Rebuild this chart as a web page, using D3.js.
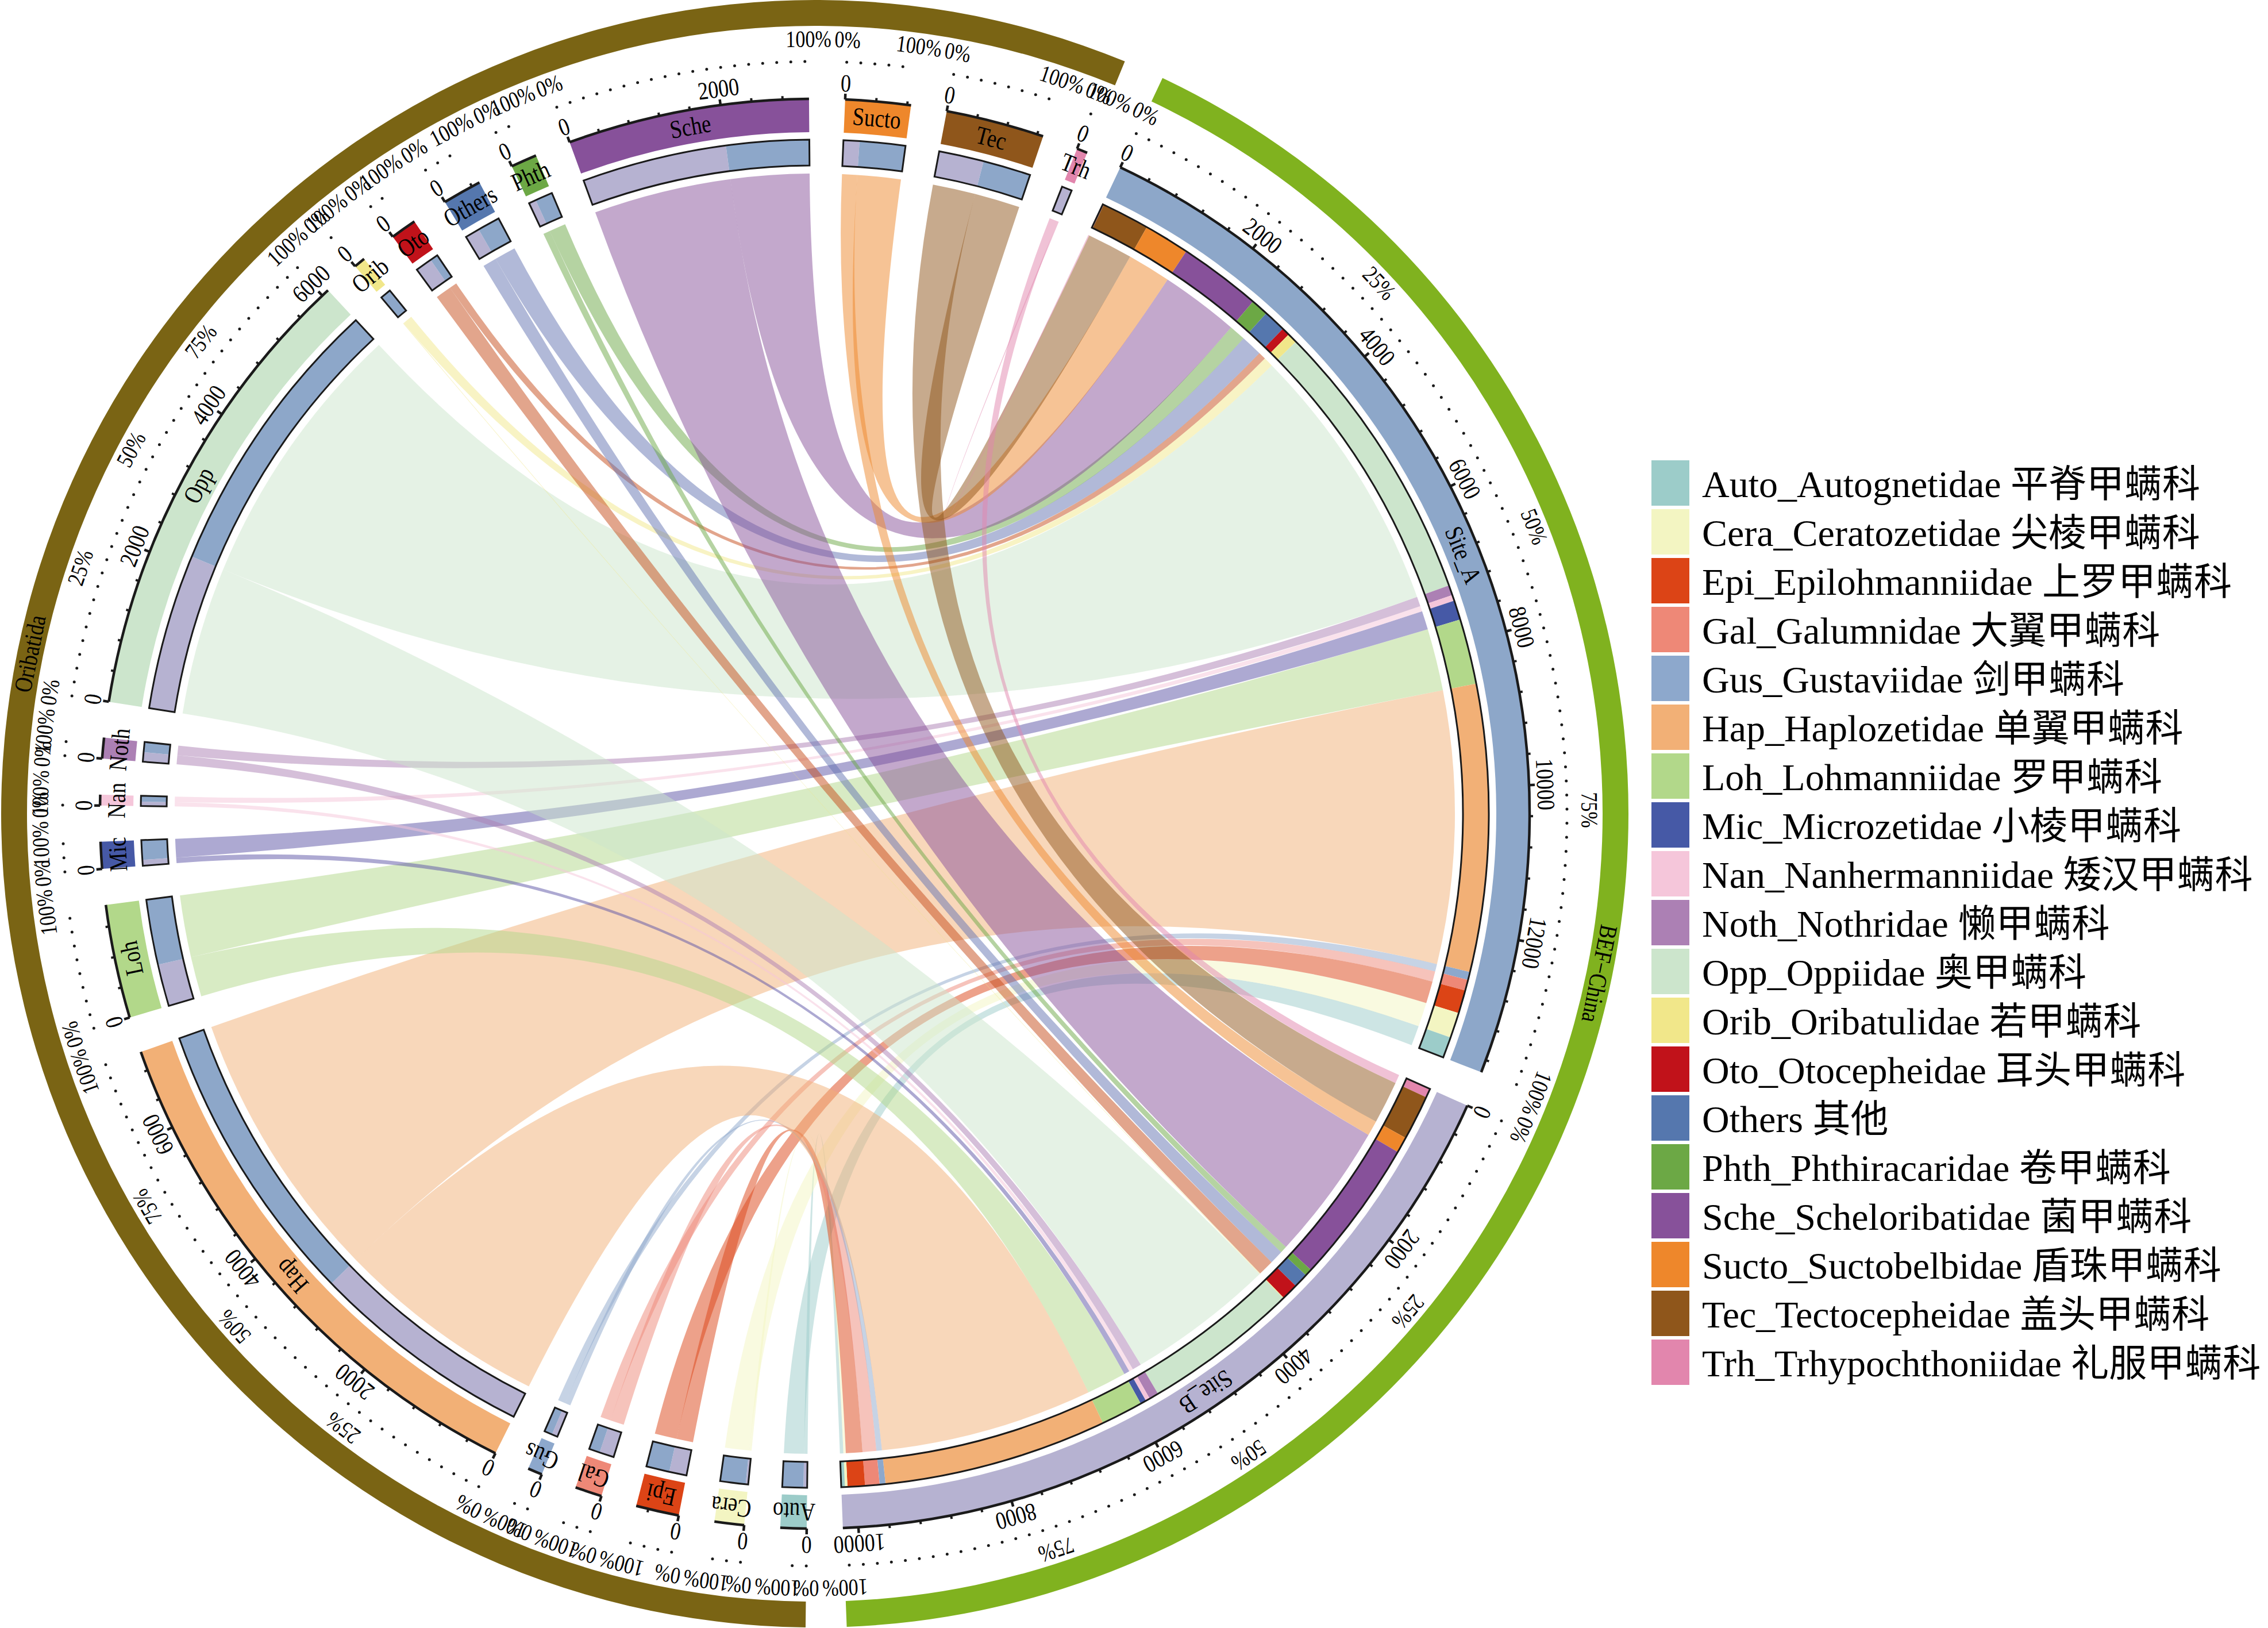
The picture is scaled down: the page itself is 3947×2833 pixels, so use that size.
<!DOCTYPE html>
<meta charset="utf-8">
<body style="margin:0;background:#fff">
<script src="https://d3js.org/d3.v7.min.js"></script>
<script>

var width = 3947,
    height = 2833,
    cx = 1418,
    cy = 1416;

// Oribatida families, in the order they sit round the circle (clockwise from the bottom)
var families = ["Auto", "Cera", "Epi", "Gal", "Gus", "Hap", "Loh", "Mic", "Nan", "Noth",
                "Opp", "Orib", "Oto", "Others", "Phth", "Sche", "Sucto", "Tec", "Trh"];

var familyLabels = ["Auto_Autognetidae 平脊甲螨科", "Cera_Ceratozetidae 尖棱甲螨科",
  "Epi_Epilohmanniidae 上罗甲螨科", "Gal_Galumnidae 大翼甲螨科", "Gus_Gustaviidae 剑甲螨科",
  "Hap_Haplozetidae 单翼甲螨科", "Loh_Lohmanniidae 罗甲螨科", "Mic_Microzetidae 小棱甲螨科",
  "Nan_Nanhermanniidae 矮汉甲螨科", "Noth_Nothridae 懒甲螨科", "Opp_Oppiidae 奥甲螨科",
  "Orib_Oribatulidae 若甲螨科", "Oto_Otocepheidae 耳头甲螨科", "Others 其他",
  "Phth_Phthiracaridae 卷甲螨科", "Sche_Scheloribatidae 菌甲螨科", "Sucto_Suctobelbidae 盾珠甲螨科",
  "Tec_Tectocepheidae 盖头甲螨科", "Trh_Trhypochthoniidae 礼服甲螨科"];

var familyColors = ["#9CCCC9", "#F3F5C2", "#DC4416", "#EE8877", "#8DA8CC", "#F2B076", "#B2D88A",
                    "#4659A6", "#F5C6DA", "#AC80B4", "#CCE5CC", "#F1E78A", "#C1121A", "#5577AE",
                    "#6CA845", "#87519A", "#EE872B", "#8F561B", "#E286AD"];

// link colours (same palette, except where the printed chords differ)
var linkColors = ["#9CCCC9", "#F3F5C2", "#DC4416", "#EE8877", "#8DA8CC", "#F2B076", "#B2D88A",
                  "#5B53A5", "#F5C6DA", "#AC80B4", "#CCE5CC", "#F1E78A", "#C54B19", "#6373B1",
                  "#6CA845", "#87519A", "#EE872B", "#8F561B", "#E286AD"];

// individuals per family at each site
var siteA = [290, 350, 320, 150, 110, 3960, 900, 270, 80, 140, 3950, 140, 110, 310, 240, 1140, 630, 660, 15];
var siteB = [50, 35, 240, 200, 80, 3090, 580, 80, 60, 130, 2150, 10, 230, 200, 100, 2000, 220, 620, 125];

var sites = ["Site_A", "Site_B"];
var siteColors = ["#8DA7C9", "#B6B2D1"];

var groups = ["Oribatida", "BEF−China"];
var groupColors = ["#7A6414", "#80B21F"];

var majorStep = 2000,
    minorStep = 400,
    pctTicks = [0, 25, 50, 75, 100];

var deg = Math.PI / 180,
    gap = 2.9 * deg,
    start = 25.3 * deg;

var rLink = 1114, rIn0 = 1128, rIn1 = 1173, rOut0 = 1186, rOut1 = 1244,
    rTickLab = 1272, rDots = 1309, rPctLab = 1348, rGrp0 = 1371, rGrp1 = 1416;

var serif = "'Liberation Serif', 'Times New Roman', 'Noto Sans CJK SC', serif";

// sectors: two sites then the families
var sectors = [];
sectors.push({name: sites[0], total: d3.sum(siteA), color: siteColors[0], group: 1});
sectors.push({name: sites[1], total: d3.sum(siteB), color: siteColors[1], group: 1});
families.forEach(function(f, i) {
  sectors.push({name: f, total: siteA[i] + siteB[i], color: familyColors[i], group: 0, index: i});
});

var k = (2 * Math.PI - sectors.length * gap) / d3.sum(sectors, function(d) { return d.total; });
var a = start;
sectors.forEach(function(s) {
  s.a0 = a;
  s.a1 = a + s.total * k;
  a = s.a1 + gap;
  s.x = d3.scaleLinear().domain([0, s.total]).range([s.a0, s.a1]);
});

// composition of each sector
var famOrder = d3.range(families.length).reverse();
[siteA, siteB].forEach(function(vals, j) {
  var s = sectors[j], pos = 0;
  s.segs = famOrder.map(function(i) {
    var seg = {a0: s.x(pos), a1: s.x(pos + vals[i]), color: familyColors[i], fam: i};
    pos += vals[i];
    return seg;
  });
});
sectors.slice(2).forEach(function(s) {
  var i = s.index;
  s.segs = [
    {a0: s.x(0), a1: s.x(siteB[i]), color: siteColors[1], site: 1},
    {a0: s.x(siteB[i]), a1: s.x(s.total), color: siteColors[0], site: 0}
  ];
});

var links = [];
sectors.slice(2).forEach(function(s) {
  s.segs.forEach(function(seg) {
    var t = sectors[seg.site].segs.find(function(d) { return d.fam === s.index; });
    links.push({
      color: linkColors[s.index],
      source: {startAngle: seg.a0, endAngle: seg.a1},
      target: {startAngle: t.a0, endAngle: t.a1}
    });
  });
});

var svg = d3.select("body").append("svg")
    .attr("width", width)
    .attr("height", height)
    .style("font-family", serif);

var g = svg.append("g").attr("transform", "translate(" + cx + "," + cy + ")");

var arc = d3.arc();

function arcLine(r, a0, a1) {
  var p = d3.path();
  p.arc(0, 0, r, a0 - Math.PI / 2, a1 - Math.PI / 2);
  return p.toString();
}

// text along the circle, top facing outwards (glyphs a bit taller, as in the print)
function placeText(sel, ang, r, txt, size) {
  return sel.append("text")
      .attr("transform", "translate(" + (r * Math.sin(ang)) + "," + (-r * Math.cos(ang)) + ") rotate(" + (ang / deg) + ") scale(1,1.2)")
      .attr("text-anchor", "middle")
      .attr("dominant-baseline", "central")
      .style("font-size", size + "px")
      .text(txt);
}

// links
g.append("g").selectAll("path")
  .data(links)
  .enter().append("path")
    .attr("d", d3.ribbon().radius(rLink))
    .attr("fill", function(d) { return d.color; })
    .attr("fill-opacity", 0.5);

// group ring
var grp = [
  {a0: sectors[2].a0, a1: sectors[sectors.length - 1].a1, i: 0},
  {a0: sectors[0].a0, a1: sectors[1].a1, i: 1}
];
grp.forEach(function(d) {
  g.append("path")
      .attr("d", arc({innerRadius: rGrp0, outerRadius: rGrp1, startAngle: d.a0, endAngle: d.a1}))
      .attr("fill", groupColors[d.i]);
  placeText(g, (d.a0 + d.a1) / 2, (rGrp0 + rGrp1) / 2, groups[d.i], 36);
});

sectors.forEach(function(s) {
  var sg = g.append("g");

  // outer colour band with the sector name
  sg.append("path")
      .attr("d", arc({innerRadius: rOut0, outerRadius: rOut1, startAngle: s.a0, endAngle: s.a1}))
      .attr("fill", s.color);
  placeText(sg, (s.a0 + s.a1) / 2, (rOut0 + rOut1) / 2, s.name, 37);

  // inner composition band
  s.segs.forEach(function(seg) {
    sg.append("path")
        .attr("d", arc({innerRadius: rIn0, outerRadius: rIn1, startAngle: seg.a0, endAngle: seg.a1}))
        .attr("fill", seg.color);
  });
  sg.append("path")
      .attr("d", arc({innerRadius: rIn0, outerRadius: rIn1, startAngle: s.a0, endAngle: s.a1}))
      .attr("fill", "none")
      .attr("stroke", "#1a1a1a")
      .attr("stroke-width", 3);

  // count axis
  sg.append("path")
      .attr("d", arcLine(rOut1, s.a0, s.a1))
      .attr("fill", "none")
      .attr("stroke", "#1a1a1a")
      .attr("stroke-width", 4.5);
  d3.range(0, s.total + 1, minorStep).forEach(function(v) {
    var an = s.x(v), major = v % majorStep === 0, len = major ? 10 : 6;
    sg.append("line")
        .attr("x1", rOut1 * Math.sin(an)).attr("y1", -rOut1 * Math.cos(an))
        .attr("x2", (rOut1 + len) * Math.sin(an)).attr("y2", -(rOut1 + len) * Math.cos(an))
        .attr("stroke", "#1a1a1a")
        .attr("stroke-width", major ? 4.5 : 4);
    if (major) placeText(sg, an, rTickLab, v, 36);
  });

  // percent axis (dotted)
  sg.append("path")
      .attr("d", arcLine(rDots, s.a0, s.a1))
      .attr("fill", "none")
      .attr("stroke", "#1a1a1a")
      .attr("stroke-width", 5)
      .attr("stroke-linecap", "round")
      .attr("stroke-dasharray", "0 24.5");
  var pct = (s.a1 - s.a0) > 25 * deg ? pctTicks : [0, 100];
  var ps = d3.scaleLinear().domain([0, 100]).range([s.a0, s.a1]);
  pct.forEach(function(p) {
    placeText(sg, ps(p), rPctLab, p + "%", 34);
  });
});

// legend
var legend = svg.append("g").attr("transform", "translate(2874,801)");
familyLabels.forEach(function(lab, i) {
  legend.append("rect")
      .attr("x", 0).attr("y", i * 85)
      .attr("width", 66).attr("height", 79)
      .attr("fill", familyColors[i]);
  legend.append("text")
      .attr("x", 88).attr("y", i * 85 + 41)
      .attr("dominant-baseline", "central")
      .style("font-size", "66px")
      .text(lab);
});

</script>
